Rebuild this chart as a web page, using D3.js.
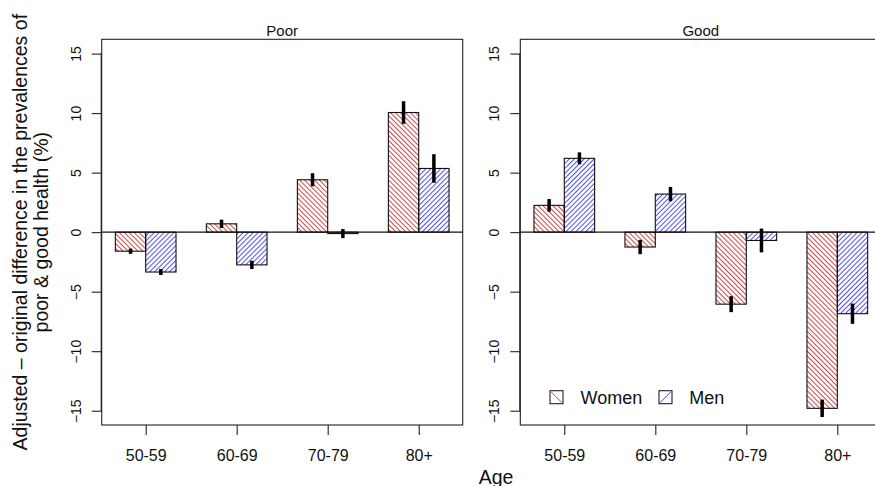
<!DOCTYPE html>
<html><head><meta charset="utf-8">
<script src="https://cdn.jsdelivr.net/npm/d3@7"></script>
<style>body{margin:0;background:#fff}svg{display:block}text{font-family:"Liberation Sans",Arial,Helvetica,sans-serif}</style>
</head><body>
<svg id="c" width="875" height="486"></svg>
<script>
const ages = ["50-59","60-69","70-79","80+"];
const panels = ["Poor","Good"];
const series = ["Women","Men"];
const poorWomen = [-1.6, 0.7, 4.4, 10.05];
const poorWomenErr = [0.22, 0.35, 0.55, 0.95];
const poorMen = [-3.35, -2.75, -0.12, 5.35];
const poorMenErr = [0.25, 0.35, 0.38, 1.2];
const goodWomen = [2.25, -1.25, -6.05, -14.8];
const goodWomenErr = [0.53, 0.6, 0.67, 0.73];
const goodMen = [6.2, 3.2, -0.7, -6.85];
const goodMenErr = [0.5, 0.6, 1.0, 0.85];
const yTicks = [-15, -10, -5, 0, 5, 10, 15];

const panelData = [
  {title: panels[0], women: poorWomen, womenErr: poorWomenErr, men: poorMen, menErr: poorMenErr, left: 101.7},
  {title: panels[1], women: goodWomen, womenErr: goodWomenErr, men: goodMen, menErr: goodMenErr, left: 520.3}
];

const svg = d3.select("#c");
const defs = svg.append("defs");
function hatch(id, color, angle) {
  const p = defs.append("pattern").attr("id", id).attr("patternUnits", "userSpaceOnUse")
    .attr("width", 3.5).attr("height", 10).attr("patternTransform", `rotate(${angle})`);
  p.append("line").attr("x1", 0.5).attr("y1", -1).attr("x2", 0.5).attr("y2", 11)
    .attr("stroke", color).attr("stroke-width", 0.95);
}
const colors = {Women: "#c83c3c", Men: "#4343e8"};
hatch("hW", colors.Women, -45);
hatch("hM", colors.Men, 45);

const plotTop = 39.3, plotBottom = 425, pw = 361;
const y = d3.scaleLinear().domain([-16.2, 16.2]).range([plotBottom, plotTop]);

panelData.forEach(pd => {
  const x = d3.scaleLinear().domain([0.55, 12.45]).range([pd.left, pd.left + pw]);
  const g = svg.append("g");
  const bars = [];
  ages.forEach((a, i) => {
    const c = 2 + 3 * i;
    bars.push({x0: c - 1, v: pd.women[i], e: pd.womenErr[i], s: "Women"});
    bars.push({x0: c, v: pd.men[i], e: pd.menErr[i], s: "Men"});
  });
  g.selectAll("rect.bar").data(bars).enter().append("rect")
    .attr("x", d => x(d.x0)).attr("width", d => x(d.x0 + 1) - x(d.x0))
    .attr("y", d => y(Math.max(0, d.v))).attr("height", d => Math.abs(y(d.v) - y(0)))
    .attr("fill", d => d.s === "Women" ? "url(#hW)" : "url(#hM)")
    .attr("stroke", "#111").attr("stroke-width", 1.1);
  g.append("line").attr("x1", x(0.55)).attr("x2", x(12.45)).attr("y1", y(0)).attr("y2", y(0))
    .attr("stroke", "#111").attr("stroke-width", 1.1);
  g.selectAll("line.err").data(bars).enter().append("line")
    .attr("x1", d => x(d.x0 + 0.5)).attr("x2", d => x(d.x0 + 0.5))
    .attr("y1", d => y(d.v + d.e)).attr("y2", d => y(d.v - d.e))
    .attr("stroke", "#000").attr("stroke-width", 3.5);
  g.append("rect").attr("x", pd.left).attr("y", plotTop).attr("width", pw).attr("height", plotBottom - plotTop)
    .attr("fill", "none").attr("stroke", "#222").attr("stroke-width", 1.1);
  const ya = g.append("g").attr("transform", `translate(${pd.left},0)`)
    .call(d3.axisLeft(y).tickValues(yTicks).tickSize(10).tickFormat(d3.format("d")));
  ya.select(".domain").attr("d", `M-0.5,${y(15)}V${y(-15)}`).attr("stroke", "#222").attr("stroke-width", 1.1);
  ya.selectAll(".tick line").attr("stroke", "#222").attr("stroke-width", 1.1);
  ya.selectAll(".tick text").attr("x", 0).attr("y", 0).attr("dy", 0)
    .attr("transform", "translate(-21,0) rotate(-90)")
    .attr("text-anchor", "middle").attr("font-size", 14).attr("fill", "#111")
    .attr("font-family", "Liberation Sans, Arial, sans-serif");
  const xb = d3.scaleOrdinal().domain(ages).range(ages.map((a, i) => x(2 + 3 * i)));
  const xa = g.append("g").attr("transform", `translate(0,${plotBottom})`)
    .call(d3.axisBottom(xb).tickSize(10));
  xa.select(".domain").remove();
  xa.selectAll(".tick line").attr("stroke", "#222").attr("stroke-width", 1.1);
  xa.selectAll(".tick text").attr("y", 0).attr("dy", 0).attr("transform", "translate(0,36)")
    .attr("font-size", 16).attr("fill", "#111")
    .attr("font-family", "Liberation Sans, Arial, sans-serif");
  g.append("text").attr("x", pd.left + pw / 2).attr("y", 35.5).attr("text-anchor", "middle")
    .attr("font-size", 15).attr("fill", "#111").text(pd.title);
});

const leg = svg.append("g");
const legX = [550, 659];
const legTextX = [580.5, 689.3];
series.forEach((s, i) => {
  const bx = legX[i], by = 390.7, bs = 13;
  leg.append("rect").attr("x", bx).attr("y", by).attr("width", bs).attr("height", bs)
    .attr("fill", "#fff").attr("stroke", "#222").attr("stroke-width", 1.1);
  if (s === "Women") {
    leg.append("line").attr("x1", bx + 1).attr("y1", by + 1).attr("x2", bx + bs - 1).attr("y2", by + bs - 1)
      .attr("stroke", colors[s]).attr("stroke-width", 1);
  } else {
    leg.append("line").attr("x1", bx + 1).attr("y1", by + bs - 1).attr("x2", bx + bs - 1).attr("y2", by + 1)
      .attr("stroke", colors[s]).attr("stroke-width", 1);
  }
  leg.append("text").attr("x", legTextX[i]).attr("y", 403.5).attr("font-size", 18).attr("fill", "#111").text(s);
});

svg.append("text").attr("transform", "translate(27,232.2) rotate(-90)").attr("text-anchor", "middle")
  .attr("font-size", 19.5).attr("fill", "#111").text("Adjusted \u2013 original difference in the prevalences of");
svg.append("text").attr("transform", "translate(48,232.2) rotate(-90)").attr("text-anchor", "middle")
  .attr("font-size", 19.5).attr("fill", "#111").text("poor & good health (%)");
svg.append("text").attr("x", 496).attr("y", 484).attr("text-anchor", "middle")
  .attr("font-size", 19.5).attr("fill", "#111").text("Age");
</script>
</body></html>
